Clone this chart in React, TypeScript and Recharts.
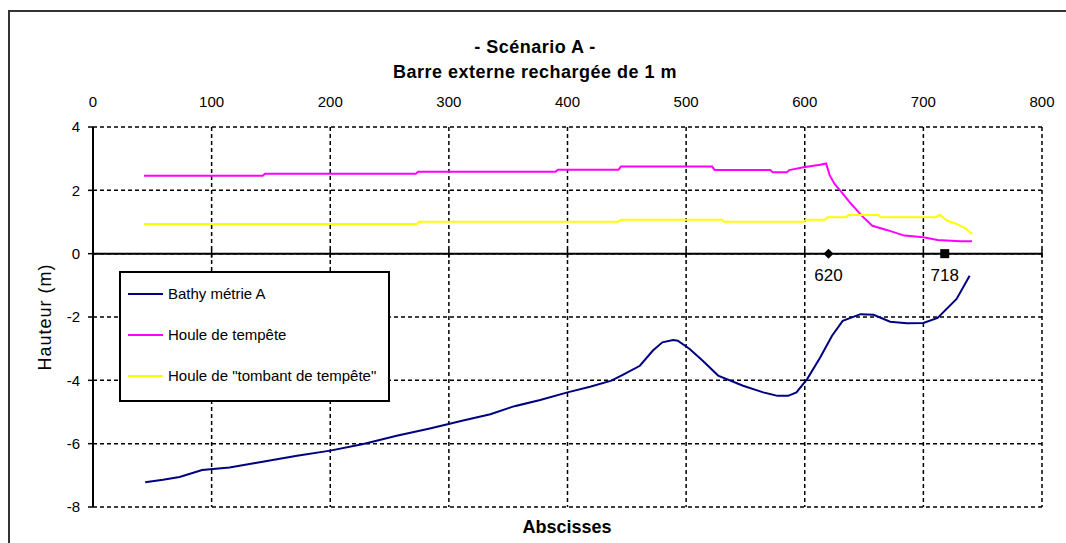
import React from 'react';
import {
  LineChart,
  Line,
  XAxis,
  YAxis,
  CartesianGrid,
  ReferenceLine,
  ReferenceDot,
  Legend,
  Label,
} from 'recharts';

// axis ticks
const xTicks = [0, 100, 200, 300, 400, 500, 600, 700, 800];
const yTicks = [-8, -6, -4, -2, 0, 2, 4];

// Bathymétrie A (abscisse, hauteur)
const bathyPts: [number, number][] = [
  [44, -7.22], [59, -7.14], [73, -7.05], [92, -6.83], [115, -6.75], [143, -6.57],
  [172, -6.38], [200, -6.22], [228, -6.01], [256, -5.75], [284, -5.52], [312, -5.27],
  [335, -5.07], [354, -4.83], [377, -4.62], [400, -4.38], [419, -4.2], [437, -4.01],
  [447, -3.82], [461, -3.54], [472, -3.06], [480, -2.8], [489, -2.73], [493, -2.75],
  [503, -3.01], [514, -3.38], [527, -3.85], [548, -4.17], [565, -4.38], [577, -4.49],
  [586, -4.49], [593, -4.38], [602, -3.96], [613, -3.28], [623, -2.59], [632, -2.12],
  [647, -1.91], [658, -1.93], [672, -2.15], [686, -2.2], [700, -2.19], [712, -2.03],
  [728, -1.43], [739, -0.7],
];

// Houle de tempête
const tempetePts: [number, number][] = [
  [43, 2.46], [143, 2.46], [145, 2.52], [272, 2.52], [274, 2.59], [390, 2.59],
  [392, 2.65], [443, 2.65], [445, 2.75], [522, 2.75], [524, 2.64], [571, 2.64],
  [573, 2.57], [585, 2.57], [587, 2.64], [599, 2.73], [613, 2.81], [618, 2.85],
  [621, 2.48], [625, 2.21], [631, 1.94], [638, 1.62], [648, 1.2], [657, 0.88],
  [669, 0.75], [684, 0.57], [700, 0.52], [712, 0.43], [731, 0.39], [741, 0.39],
];

// Houle de "tombant de tempête"
const tombantPts: [number, number][] = [
  [43, 0.94], [273, 0.94], [275, 1.01], [443, 1.01], [445, 1.07], [530, 1.07],
  [532, 1.01], [599, 1.01], [601, 1.07], [617, 1.07], [619, 1.15], [635, 1.15],
  [637, 1.22], [662, 1.22], [664, 1.15], [710, 1.15], [714, 1.22], [720, 1.04],
  [728, 0.94], [735, 0.81], [741, 0.62],
];

// points remarquables sur l'axe
const markerX = [620, 718];
const markerLabels = ['620', '718'];
const markerShapes = ['diamond', 'square'];

const seriesNames = ['Bathy métrie A', 'Houle de tempête', 'Houle de "tombant de tempête"'];
const seriesColors = ['#000080', '#FF00FF', '#FFFF00'];

const toPoints = (arr: [number, number][]) => arr.map(([x, y]) => ({ x, y }));
const seriesData = [toPoints(bathyPts), toPoints(tempetePts), toPoints(tombantPts)];

const FONT = '"Liberation Sans", Arial, sans-serif';

function LegendBox() {
  return (
    <div
      style={{
        width: 271,
        height: 131,
        boxSizing: 'border-box',
        border: '2px solid #000',
        background: '#fff',
        fontFamily: FONT,
      }}
    >
      {seriesNames.map((name, i) => (
        <div key={name} style={{ display: 'flex', alignItems: 'center', height: 41 }}>
          <span
            style={{
              display: 'inline-block',
              width: 35,
              height: 2,
              background: seriesColors[i],
              marginLeft: 7,
              marginRight: 5,
            }}
          />
          <span style={{ fontSize: 15, color: '#000', whiteSpace: 'nowrap' }}>{name}</span>
        </div>
      ))}
    </div>
  );
}

function MarkerShape(props: any) {
  const { cx, cy, kind } = props;
  if (kind === 'square') {
    return <rect x={cx - 4.5} y={cy - 4.5} width={9} height={9} fill="#000" />;
  }
  return (
    <polygon
      points={`${cx},${cy - 5} ${cx + 5},${cy} ${cx},${cy + 5} ${cx - 5},${cy}`}
      fill="#000"
    />
  );
}

function YTitle(props: any) {
  const { viewBox } = props;
  const cx = viewBox.x + 35;
  const cy = viewBox.y + viewBox.height / 2;
  return (
    <text
      x={cx}
      y={cy}
      transform={`rotate(-90, ${cx}, ${cy})`}
      textAnchor="middle"
      dominantBaseline="central"
      fontSize={18}
      letterSpacing={1}
      fill="#000"
      fontFamily={FONT}
    >
      Hauteur (m)
    </text>
  );
}

export default function App() {
  return (
    <div
      style={{
        position: 'fixed',
        left: 8,
        top: 10,
        width: 1058,
        height: 533,
        boxSizing: 'border-box',
        borderTop: '2px solid #333',
        borderLeft: '2px solid #333',
        fontFamily: FONT,
        background: '#fff',
      }}
    >
      <LineChart
        width={1046}
        height={525}
        margin={{ top: 85, right: 14, bottom: 30, left: 0 }}
        style={{ position: 'absolute', left: 0, top: 0 }}
      >
        <CartesianGrid stroke="#000" strokeDasharray="4 3" strokeWidth={1.5} />
        <XAxis
          dataKey="x"
          type="number"
          orientation="top"
          domain={[0, 800]}
          ticks={xTicks}
          height={30}
          axisLine={false}
          tickLine={false}
          tickSize={0}
          tickMargin={20}
          tick={{ fontSize: 15, fill: '#000', fontFamily: FONT }}
          allowDataOverflow
        />
        <YAxis
          type="number"
          domain={[-8, 4]}
          ticks={yTicks}
          width={83}
          axisLine={{ stroke: '#000', strokeWidth: 2 }}
          tickLine={{ stroke: '#000', strokeWidth: 1.5 }}
          tickSize={5}
          tickMargin={8}
          tick={{ fontSize: 15, fill: '#000', fontFamily: FONT }}
          allowDataOverflow
        >
          <Label content={<YTitle />} />
        </YAxis>

        {/* axe des abscisses à y = 0 */}
        <ReferenceLine y={0} stroke="#000" strokeWidth={2} />
        {xTicks.map((t) => (
          <ReferenceLine
            key={`tk${t}`}
            segment={[{ x: t, y: -0.13 }, { x: t, y: 0.13 }]}
            stroke="#000"
            strokeWidth={1.5}
          />
        ))}

        {seriesNames.map((name, i) => (
          <Line
            key={name}
            name={name}
            data={seriesData[i]}
            dataKey="y"
            type="linear"
            stroke={seriesColors[i]}
            strokeWidth={2}
            dot={false}
            activeDot={false}
            isAnimationActive={false}
          />
        ))}

        {markerX.map((mx, i) => (
          <ReferenceDot
            key={`m${mx}`}
            x={mx}
            y={0}
            r={4}
            shape={(p: any) => <MarkerShape {...p} kind={markerShapes[i]} />}
            label={{
              value: markerLabels[i],
              position: 'bottom',
              offset: 11,
              fontSize: 17,
              fill: '#000',
              fontFamily: FONT,
            }}
          />
        ))}

        <Legend
          layout="vertical"
          align="center"
          verticalAlign="middle"
          wrapperStyle={{ left: 109, top: 259, width: 271, height: 131 }}
          content={() => <LegendBox />}
        />
      </LineChart>

      <div
        style={{
          position: 'absolute',
          left: 325,
          top: 23,
          width: 400,
          textAlign: 'center',
          fontWeight: 'bold',
          fontSize: 18,
          lineHeight: '25px',
          letterSpacing: 0.5,
          color: '#000',
        }}
      >
        <div>- Scénario A -</div>
        <div>Barre externe rechargée de 1 m</div>
      </div>

      <div
        style={{
          position: 'absolute',
          left: 457,
          top: 505,
          width: 200,
          textAlign: 'center',
          fontWeight: 'bold',
          fontSize: 18,
          lineHeight: '20px',
          color: '#000',
        }}
      >
        Abscisses
      </div>
    </div>
  );
}
